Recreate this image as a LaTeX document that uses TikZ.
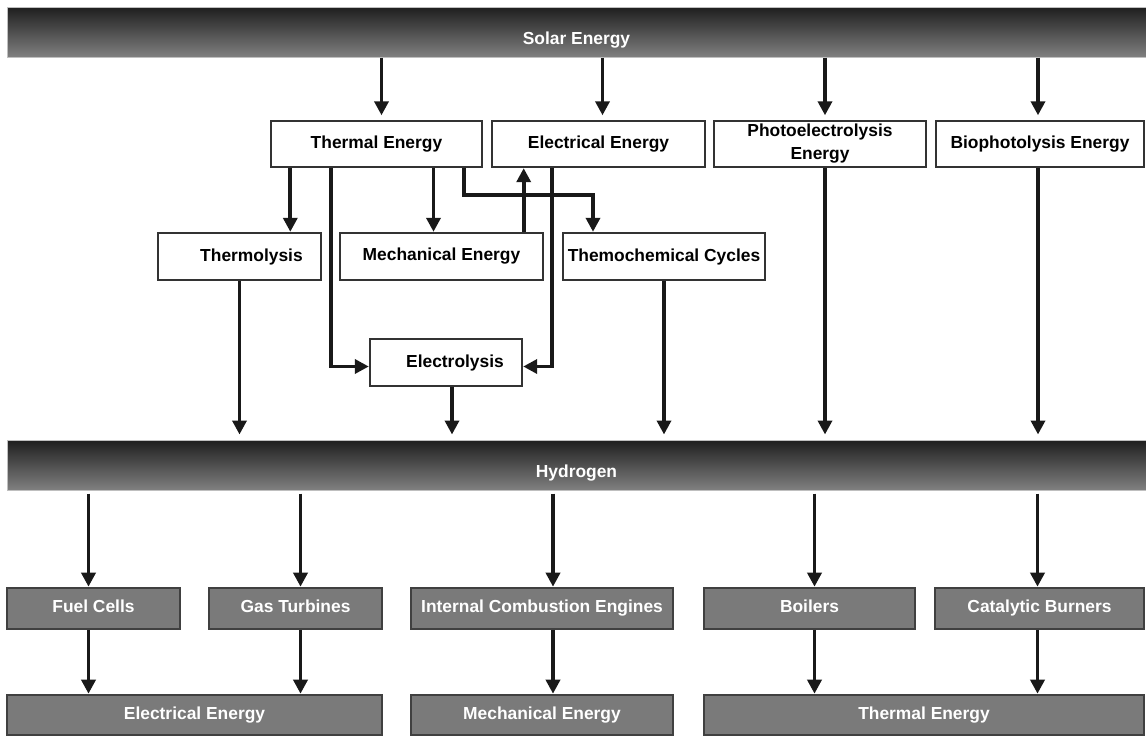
\documentclass[tikz,border=0pt]{standalone}
\usepackage{fontspec}
\setmainfont{Liberation Sans}
\usetikzlibrary{arrows.meta}

\tikzset{
  bar/.style={shape=rectangle,top color=black!88,bottom color=black!50,draw=black!25,line width=1pt,
    minimum width=1139pt,minimum height=50pt,text=white,text height=27pt,text depth=2pt},
  whitebox/.style={shape=rectangle,draw=black!80,line width=1.4pt,fill=white,align=center},
  greybox/.style={shape=rectangle,draw=black!75,line width=1.6pt,fill=black!52,text=white,
    text height=13pt,text depth=5pt},
  flow/.style={line width=3.8pt,black!90,-{Triangle[length=14pt,width=14pt]},shorten >=0.5pt}
}

\begin{document}
\begin{tikzpicture}
[x=1pt,y=-1pt,inner sep=0pt,%
  font=\bfseries\fontsize{17.4}{23}\selectfont]
\useasboundingbox (0,0) rectangle (1146,736);
%% sources
\node[bar] (solar) at (576.5,32) {Solar Energy};
\node[whitebox,minimum width=211pt,minimum height=46pt] (thermal) at (376.5,144) {Thermal Energy};
\node[whitebox,minimum width=213pt,minimum height=46pt] (electrical) at (598.5,144) {Electrical Energy};
\node[whitebox,minimum width=212pt,minimum height=46pt] (photo) at (820,144) {Photoelectrolysis\\Energy};
\node[whitebox,minimum width=208pt,minimum height=46pt] (bio) at (1040,144) {Biophotolysis Energy};
%% processes
\node[whitebox,minimum width=163pt,minimum height=47pt] (thermolysis) at (239.5,256.5) {\hspace*{24pt}Thermolysis};
\node[whitebox,minimum width=203pt,minimum height=47pt] (mechanical) at (441.5,256.5) {Mechanical Energy};
\node[whitebox,minimum width=202pt,minimum height=47pt] (thermocycles) at (664,256.5) {Themochemical Cycles};
\node[whitebox,minimum width=152pt,minimum height=47pt] (electrolysis) at (446,362.5) {\hspace*{18pt}Electrolysis};
%%
\node[bar] (hydrogen) at (576.5,465) {Hydrogen};
%% end uses
\node[greybox,minimum width=173pt,minimum height=41pt] (fuel) at (93.5,608.5) {Fuel Cells};
\node[greybox,minimum width=173pt,minimum height=41pt] (gas) at (295.5,608.5) {Gas Turbines};
\node[greybox,minimum width=262pt,minimum height=41pt] (ice) at (542,608.5) {Internal Combustion Engines};
\node[greybox,minimum width=211pt,minimum height=41pt] (boilers) at (809.5,608.5) {Boilers};
\node[greybox,minimum width=209pt,minimum height=41pt] (catalytic) at (1039.5,608.5) {Catalytic Burners};
%%
\node[greybox,minimum width=375pt,minimum height=40pt] (eleout) at (194.5,715) {Electrical Energy};
\node[greybox,minimum width=262pt,minimum height=40pt] (mechout) at (542,715) {Mechanical Energy};
\node[greybox,minimum width=440pt,minimum height=40pt] (thermout) at (924,715) {Thermal Energy};
%% solar to sources
\foreach \dst/\dx in {thermal/5, electrical/4, photo/5, bio/-2}
{
  \draw[flow,shorten >=5pt] ([xshift=\dx pt]\dst.north |- solar.south) -- ([xshift=\dx pt]\dst.north);
}
%% thermal and electrical routes
\draw[flow] ([xshift=20pt]thermal.south west) -- ([xshift=20pt]thermal.south west |- thermolysis.north);
\draw[flow] ([xshift=-8pt]mechanical.north |- thermal.south) -- ([xshift=-8pt]mechanical.north);
\draw[flow] ([xshift=-19pt]thermal.south east) -- ++(0,27) -| ([xshift=-71pt]thermocycles.north);
\draw[flow] ([xshift=-20pt]mechanical.north east) -- ([xshift=-20pt]mechanical.north east |- electrical.south);
\draw[flow] ([xshift=61pt]electrical.south west) |- ([yshift=-4pt]electrolysis.east);
\draw[flow] ([xshift=61pt]thermal.south west) |- ([yshift=-4pt]electrolysis.west);
%% into hydrogen
\foreach \src/\dx in {thermolysis/0, electrolysis/6, thermocycles/0, photo/5, bio/-2}
{
  \draw[flow,shorten >=5pt] ([xshift=\dx pt]\src.south) -- ([xshift=\dx pt]\src.south |- hydrogen.north);
}
%% hydrogen to uses
\foreach \dst/\out/\dx in {fuel/eleout/-5, gas/eleout/5, ice/mechout/11, boilers/thermout/5, catalytic/thermout/-2}
{
  \draw[flow,shorten <=3pt] ([xshift=\dx pt]\dst.north |- hydrogen.south) -- ([xshift=\dx pt]\dst.north);
  \draw[flow] ([xshift=\dx pt]\dst.south) -- ([xshift=\dx pt]\dst.south |- \out.north);
}
\end{tikzpicture}
\end{document}
